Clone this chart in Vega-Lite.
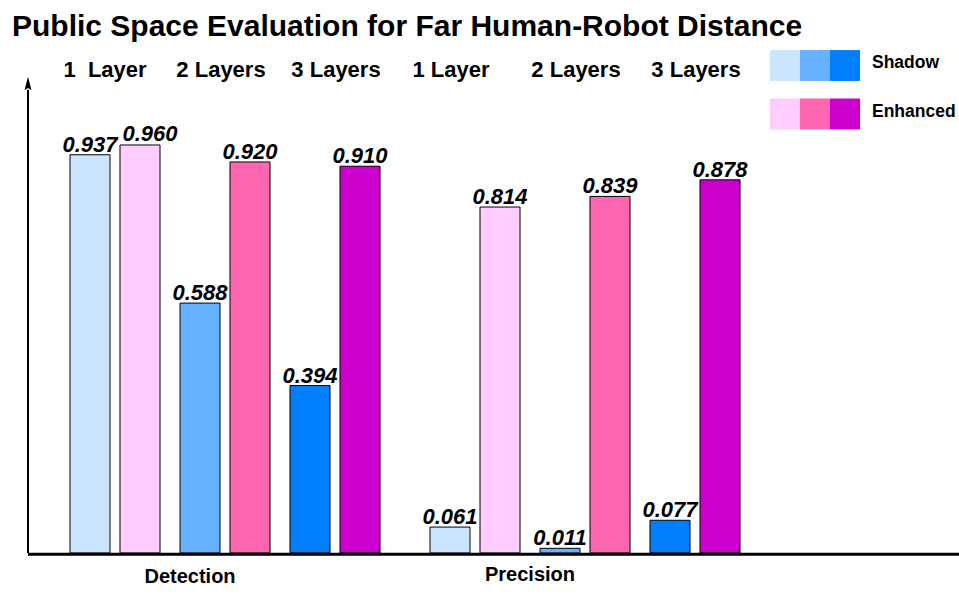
{
  "$schema": "https://vega.github.io/schema/vega-lite/v6.json",
  "width": 931,
  "height": 513,
  "autosize": {"type": "none"},
  "padding": {"left": 28, "top": 40, "right": 0, "bottom": 41},
  "background": "white",
  "config": {"view": {"stroke": null}, "font": "Liberation Sans"},
  "title": {
    "text": "Public Space Evaluation for Far Human-Robot Distance",
    "font": "Liberation Sans",
    "fontSize": 30,
    "fontWeight": "bold",
    "color": "black",
    "anchor": "start",
    "frame": "group",
    "dx": -16,
    "offset": -2
  },
  "datasets": {
    "bars": [
      {"metric": "Detection", "method": "Shadow", "layers": "1 Layer", "kind": "Shadow 1", "pos": 6, "value": 0.937},
      {"metric": "Detection", "method": "Enhanced", "layers": "1 Layer", "kind": "Enhanced 1", "pos": 11, "value": 0.960},
      {"metric": "Detection", "method": "Shadow", "layers": "2 Layers", "kind": "Shadow 2", "pos": 17, "value": 0.588},
      {"metric": "Detection", "method": "Enhanced", "layers": "2 Layers", "kind": "Enhanced 2", "pos": 22, "value": 0.920},
      {"metric": "Detection", "method": "Shadow", "layers": "3 Layers", "kind": "Shadow 3", "pos": 28, "value": 0.394},
      {"metric": "Detection", "method": "Enhanced", "layers": "3 Layers", "kind": "Enhanced 3", "pos": 33, "value": 0.910},
      {"metric": "Precision", "method": "Shadow", "layers": "1 Layer", "kind": "Shadow 1", "pos": 42, "value": 0.061},
      {"metric": "Precision", "method": "Enhanced", "layers": "1 Layer", "kind": "Enhanced 1", "pos": 47, "value": 0.814},
      {"metric": "Precision", "method": "Shadow", "layers": "2 Layers", "kind": "Shadow 2", "pos": 53, "value": 0.011},
      {"metric": "Precision", "method": "Enhanced", "layers": "2 Layers", "kind": "Enhanced 2", "pos": 58, "value": 0.839},
      {"metric": "Precision", "method": "Shadow", "layers": "3 Layers", "kind": "Shadow 3", "pos": 64, "value": 0.077},
      {"metric": "Precision", "method": "Enhanced", "layers": "3 Layers", "kind": "Enhanced 3", "pos": 69, "value": 0.878}
    ],
    "layerLabels": [
      {"text": "1\u00a0\u00a0Layer", "pos": 7.5, "y": 1.136},
      {"text": "2 Layers", "pos": 19.1, "y": 1.136},
      {"text": "3 Layers", "pos": 30.6, "y": 1.136},
      {"text": "1 Layer", "pos": 42.1, "y": 1.136},
      {"text": "2 Layers", "pos": 54.6, "y": 1.136},
      {"text": "3 Layers", "pos": 66.6, "y": 1.136}
    ],
    "metricLabels": [
      {"text": "Detection", "pos": 16, "y": -0.0565},
      {"text": "Precision", "pos": 50, "y": -0.052}
    ],
    "swatches": [
      {"kind": "Shadow 1", "pos": 75.5, "y": 1.147},
      {"kind": "Shadow 2", "pos": 78.5, "y": 1.147},
      {"kind": "Shadow 3", "pos": 81.5, "y": 1.147},
      {"kind": "Enhanced 1", "pos": 75.5, "y": 1.033},
      {"kind": "Enhanced 2", "pos": 78.5, "y": 1.033},
      {"kind": "Enhanced 3", "pos": 81.5, "y": 1.033}
    ],
    "legendText": [
      {"text": "Shadow", "pos": 84.2, "y": 1.153},
      {"text": "Enhanced", "pos": 84.2, "y": 1.038}
    ]
  },
  "layer": [
    {
      "data": {"name": "bars"},
      "mark": {"type": "bar", "width": 40, "stroke": "black", "strokeWidth": 1},
      "encoding": {
        "x": {"field": "pos", "type": "quantitative", "scale": {"domain": [-0.2, 92.9], "nice": false, "zero": false, "padding": 0}, "axis": null},
        "y": {"field": "value", "type": "quantitative", "scale": {"domain": [0, 1.207], "nice": false, "zero": false, "padding": 0}, "axis": null},
        "color": {
          "field": "kind", "type": "nominal", "legend": null,
          "scale": {
            "domain": ["Shadow 1", "Shadow 2", "Shadow 3", "Enhanced 1", "Enhanced 2", "Enhanced 3"],
            "range": ["#cce5ff", "#66b2ff", "#0080ff", "#ffccff", "#ff66b2", "#cc00cc"]
          }
        }
      }
    },
    {
      "data": {"name": "bars"},
      "transform": [{"filter": "datum.value != 0.96"}],
      "mark": {"type": "text", "baseline": "alphabetic", "dy": -3, "fontSize": 22, "fontWeight": "bold", "fontStyle": "italic", "font": "Liberation Sans", "color": "black"},
      "encoding": {
        "x": {"field": "pos", "type": "quantitative", "scale": {"domain": [-0.2, 92.9], "nice": false, "zero": false, "padding": 0}, "axis": null},
        "y": {"field": "value", "type": "quantitative", "scale": {"domain": [0, 1.207], "nice": false, "zero": false, "padding": 0}, "axis": null},
        "text": {"field": "value", "type": "quantitative", "format": ".3f"}
      }
    },
    {
      "data": {"name": "bars"},
      "transform": [{"filter": "datum.value == 0.96"}],
      "mark": {"type": "text", "baseline": "alphabetic", "dy": -4, "dx": 10, "fontSize": 22, "fontWeight": "bold", "fontStyle": "italic", "font": "Liberation Sans", "color": "black"},
      "encoding": {
        "x": {"field": "pos", "type": "quantitative", "scale": {"domain": [-0.2, 92.9], "nice": false, "zero": false, "padding": 0}, "axis": null},
        "y": {"field": "value", "type": "quantitative", "scale": {"domain": [0, 1.207], "nice": false, "zero": false, "padding": 0}, "axis": null},
        "text": {"field": "value", "type": "quantitative", "format": ".3f"}
      }
    },
    {
      "data": {"name": "swatches"},
      "mark": {"type": "point", "shape": "M-1,-1.03H1V1.03H-1Z", "filled": true, "size": 900, "opacity": 1, "strokeWidth": 0},
      "encoding": {
        "x": {"field": "pos", "type": "quantitative", "scale": {"domain": [-0.2, 92.9], "nice": false, "zero": false, "padding": 0}, "axis": null},
        "y": {"field": "y", "type": "quantitative", "scale": {"domain": [0, 1.207], "nice": false, "zero": false, "padding": 0}, "axis": null},
        "color": {"field": "kind", "type": "nominal", "legend": null}
      }
    },
    {
      "data": {"name": "layerLabels"},
      "mark": {"type": "text", "baseline": "middle", "fontSize": 22, "fontWeight": "bold", "font": "Liberation Sans", "color": "black"},
      "encoding": {
        "x": {"field": "pos", "type": "quantitative", "scale": {"domain": [-0.2, 92.9], "nice": false, "zero": false, "padding": 0}, "axis": null},
        "y": {"field": "y", "type": "quantitative", "scale": {"domain": [0, 1.207], "nice": false, "zero": false, "padding": 0}, "axis": null},
        "text": {"field": "text"}
      }
    },
    {
      "data": {"name": "metricLabels"},
      "mark": {"type": "text", "baseline": "middle", "fontSize": 20, "fontWeight": "bold", "font": "Liberation Sans", "color": "black"},
      "encoding": {
        "x": {"field": "pos", "type": "quantitative", "scale": {"domain": [-0.2, 92.9], "nice": false, "zero": false, "padding": 0}, "axis": null},
        "y": {"field": "y", "type": "quantitative", "scale": {"domain": [0, 1.207], "nice": false, "zero": false, "padding": 0}, "axis": null},
        "text": {"field": "text"}
      }
    },
    {
      "data": {"name": "legendText"},
      "mark": {"type": "text", "align": "left", "baseline": "middle", "fontSize": 17.5, "fontWeight": "bold", "font": "Liberation Sans", "color": "black"},
      "encoding": {
        "x": {"field": "pos", "type": "quantitative", "scale": {"domain": [-0.2, 92.9], "nice": false, "zero": false, "padding": 0}, "axis": null},
        "y": {"field": "y", "type": "quantitative", "scale": {"domain": [0, 1.207], "nice": false, "zero": false, "padding": 0}, "axis": null},
        "text": {"field": "text"}
      }
    },
    {
      "data": {"values": [{}]},
      "mark": {"type": "rule", "color": "black", "strokeWidth": 2},
      "encoding": {
        "x": {"datum": -0.2, "type": "quantitative", "scale": {"domain": [-0.2, 92.9], "nice": false, "zero": false, "padding": 0}, "axis": null},
        "y": {"datum": 0, "type": "quantitative", "scale": {"domain": [0, 1.207], "nice": false, "zero": false, "padding": 0}, "axis": null},
        "y2": {"datum": 1.09}
      }
    },
    {
      "data": {"values": [{}]},
      "mark": {"type": "rule", "color": "black", "strokeWidth": 3},
      "encoding": {
        "x": {"datum": -0.2, "type": "quantitative", "scale": {"domain": [-0.2, 92.9], "nice": false, "zero": false, "padding": 0}, "axis": null},
        "x2": {"datum": 92.9},
        "y": {"datum": -0.003, "type": "quantitative", "scale": {"domain": [0, 1.207], "nice": false, "zero": false, "padding": 0}, "axis": null}
      }
    },
    {
      "data": {"values": [{}]},
      "mark": {"type": "point", "shape": "M0,-1L-0.5,0.9L0,0.6L0.5,0.9Z", "filled": true, "color": "black", "opacity": 1, "size": 200, "strokeWidth": 0},
      "encoding": {
        "x": {"datum": -0.2, "type": "quantitative", "scale": {"domain": [-0.2, 92.9], "nice": false, "zero": false, "padding": 0}, "axis": null},
        "y": {"datum": 1.104, "type": "quantitative", "scale": {"domain": [0, 1.207], "nice": false, "zero": false, "padding": 0}, "axis": null}
      }
    }
  ]
}
